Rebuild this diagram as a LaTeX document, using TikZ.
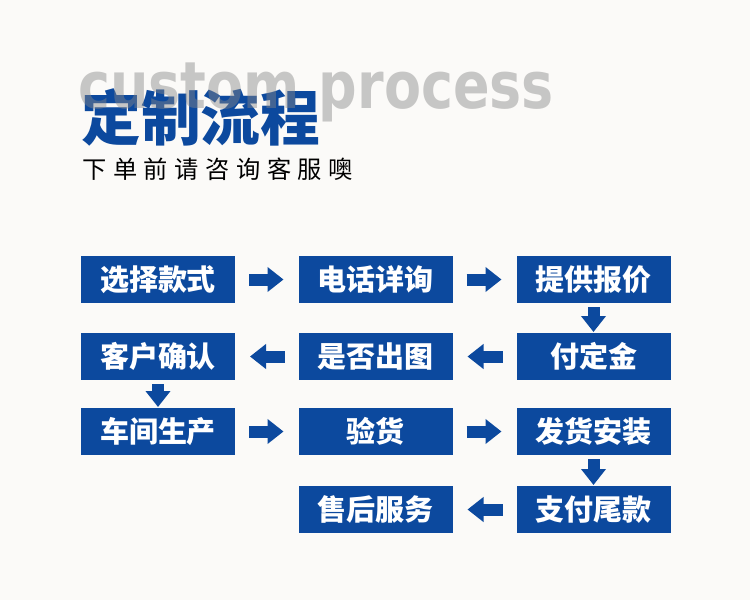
\documentclass[tikz,border=0pt]{standalone}
\usepackage{fontspec}
\usepackage{tikz}
\usetikzlibrary{positioning,arrows.meta}
\newfontfamily\cjk{Noto Sans CJK SC}
\newfontfamily\cjksub{Noto Sans CJK SC}[LetterSpace=27]
\newfontfamily\titlelatin{DejaVu Sans}
\definecolor{BoxBlue}{RGB}{12,73,158}
\definecolor{PageBg}{RGB}{251,250,248}
\definecolor{GhostGray}{RGB}{135,135,135}

\begin{document}
\begin{tikzpicture}[
    stepbox/.style={rectangle, fill=BoxBlue, text=white, inner sep=0pt, outer sep=0pt,
        minimum width=3.08cm, minimum height=0.94cm, font=\cjk\bfseries\fontsize{16.5}{16.5}\selectfont},
    arr/.style={-{Triangle[length=0.32cm, width=0.48cm]}, line width=0.24cm, BoxBlue,
        shorten <=0.28cm, shorten >=0.3cm},
    darr/.style={arr, shorten <=0.08cm, shorten >=0.02cm},
]
\useasboundingbox[fill=PageBg] (0,0) rectangle (15,-12);

% title
\node[anchor=west, inner sep=0pt, text=BoxBlue, font=\cjk\bfseries\fontsize{34}{34}\selectfont]
    (title) at (1.62,-2.34) {定制流程};
\node[anchor=base west, inner sep=0pt, text=GhostGray, text opacity=0.45,
    font=\titlelatin\bfseries\fontsize{37}{37}\selectfont]
    (ghost) at (1.56,-2.16) {\scalebox{0.83}[1]{custom process}};
\node[anchor=west, inner sep=0pt, font=\cjksub\fontsize{13.8}{13.8}\selectfont]
    (subtitle) at (1.64,-3.38) {下单前请咨询客服噢};

% steps
\node[stepbox] (xuanze) at (3.16,-5.59) {选择款式};
\node[stepbox, right=1.27cm of xuanze] (dianhua) {电话详询};
\node[stepbox, right=1.28cm of dianhua] (baojia) {提供报价};
\node[stepbox, below=0.6cm of baojia] (dingjin) {付定金};
\node[stepbox, below=0.6cm of dianhua] (chutu) {是否出图};
\node[stepbox, below=0.6cm of xuanze] (queren) {客户确认};
\node[stepbox, below=0.56cm of queren] (shengchan) {车间生产};
\node[stepbox, right=1.27cm of shengchan] (yanhuo) {验货};
\node[stepbox, right=1.28cm of yanhuo] (fahuo) {发货安装};
\node[stepbox, below=0.62cm of fahuo] (weikuan) {支付尾款};
\node[stepbox, left=1.28cm of weikuan] (shouhou) {售后服务};

\draw[arr] (xuanze) -- (dianhua);
\draw[arr] (dianhua) -- (baojia);
\draw[darr] (baojia) -- (dingjin);
\draw[arr] (dingjin) -- (chutu);
\draw[arr] (chutu) -- (queren);
\draw[darr] (queren) -- (shengchan);
\draw[arr] (shengchan) -- (yanhuo);
\draw[arr] (yanhuo) -- (fahuo);
\draw[darr] (fahuo) -- (weikuan);
\draw[arr] (weikuan) -- (shouhou);
\end{tikzpicture}
\end{document}
